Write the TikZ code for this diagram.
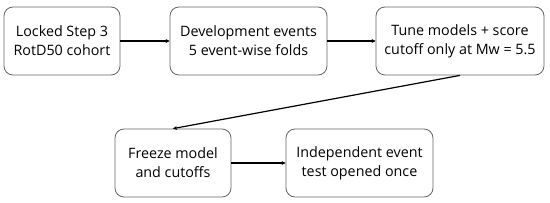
\documentclass[tikz,border=0pt]{standalone}
\usepackage{fontspec}
\setmainfont{Open Sans}
\usetikzlibrary{arrows.meta}
\begin{document}
\begin{tikzpicture}[x=1pt,y=-1pt,
  box/.style={draw=black!60, line width=0.8pt, rounded corners=9pt, align=center, font=\fontsize{14.3}{19}\selectfont, inner sep=0pt},
  conn/.style={line width=1.2pt, -{Stealth[length=4pt,width=4pt]}}]
\useasboundingbox (0,0) rectangle (550,203);
\node[box, minimum width=116pt, minimum height=68pt] (a) at (62,41) {Locked Step 3\\RotD50 cohort};
\node[box, minimum width=157pt, minimum height=68pt] (b) at (248.5,41) {Development events\\5 event-wise folds};
\node[box, minimum width=168pt, minimum height=68pt] (c) at (460,41) {Tune models + score\\cutoff only at Mw = 5.5};
\node[box, minimum width=116pt, minimum height=68pt] (d) at (173,163) {Freeze model\\and cutoffs};
\node[box, minimum width=147pt, minimum height=68pt] (e) at (359.5,163) {Independent event\\test opened once};
\draw[conn] (a) -- (b);
\draw[conn] (b) -- (c);
\draw[conn] (c.south) -- (d.north);
\draw[conn] (d) -- (e);
\end{tikzpicture}
\end{document}
